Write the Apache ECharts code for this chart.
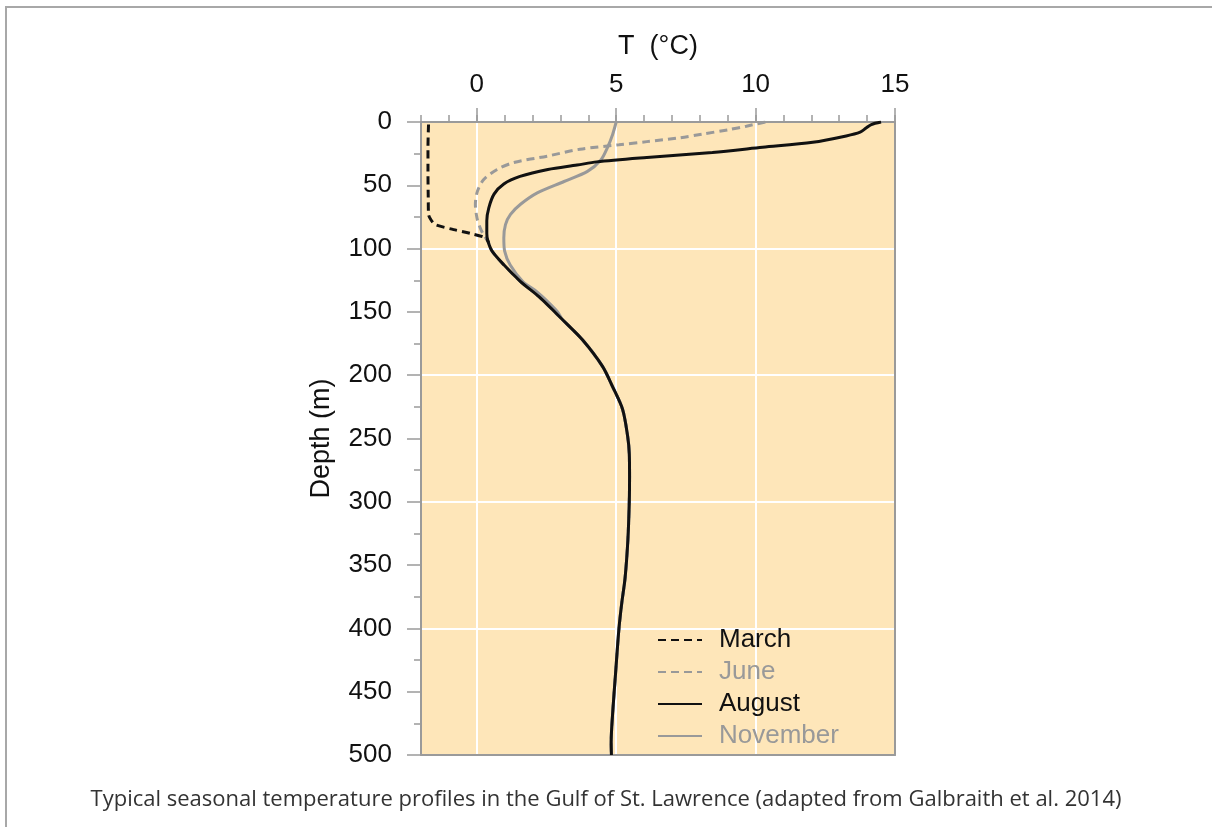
<!DOCTYPE html>
<html>
<head>
<meta charset="utf-8">
<title>Seasonal temperature profiles</title>
<script src="https://cdn.jsdelivr.net/npm/echarts@6/dist/echarts.min.js"></script>
<style>
  html, body { margin: 0; padding: 0; background: #fff; }
  #chart { position: absolute; left: 0; top: 0; width: 1212px; height: 827px; }
  #frame { position: absolute; left: 5px; top: 6px; right: 0; bottom: 0;
           border-top: 2px solid #a8a8a8; border-left: 2px solid #a8a8a8; pointer-events: none; }
</style>
</head>
<body>
<div id="chart"></div>
<div id="frame"></div>
<script>
// Temperature profiles: each point is [temperature (°C), depth (m)]
const march = [
  [-1.73, 2], [-1.75, 20], [-1.75, 40], [-1.74, 60], [-1.73, 73], [-1.62, 78],
  [-1.5, 81], [-0.83, 85], [-0.23, 88], [0.31, 91.5], [0.42, 95]
];
const june = [
  [10.35, 0], [9.67, 3.3], [9.05, 6], [8.1, 9.5], [7.27, 12.5], [6.1, 15.5], [5.1, 18], [3.7, 21.5],
  [2.52, 27], [1.33, 32], [0.73, 37.5], [0.25, 45.5], [0.02, 55], [-0.05, 65],
  [0.01, 76], [0.13, 84], [0.27, 90], [0.4, 94]
];
const august = [
  [14.5, 0], [14.15, 2], [13.95, 5], [13.75, 8], [13.25, 11], [12.05, 16],
  [10.25, 20], [8.45, 24], [6.1, 28], [4.3, 31.5], [3.6, 34], [2.55, 37.5],
  [1.55, 43], [0.97, 49], [0.62, 57], [0.43, 68], [0.36, 78], [0.36, 88],
  [0.4, 94], [0.55, 102], [0.98, 113], [1.57, 126], [2.23, 138], [3.07, 156],
  [3.79, 172], [4.51, 193], [4.87, 209], [5.23, 227], [5.41, 248], [5.47, 262],
  [5.48, 280], [5.47, 300], [5.42, 330], [5.32, 360], [5.2, 380], [5.1, 400],
  [4.98, 435], [4.88, 465], [4.82, 490], [4.83, 500]
];
const november = [
  [5.0, 0], [4.87, 10], [4.69, 20], [4.45, 30], [3.97, 39], [3.13, 47],
  [2.17, 56], [1.57, 65], [1.21, 73], [1.03, 81], [0.97, 91.5], [1.0, 102],
  [1.2, 113], [1.65, 126], [2.15, 134], [2.55, 142], [2.9, 150], [3.07, 156]
];
// Deep water below the seasonal layers is shared by June and November
const deepWater = [
  [0.55, 102], [0.98, 113], [1.57, 126], [2.23, 138], [3.07, 156],
  [3.79, 172], [4.51, 193], [4.87, 209], [5.23, 227], [5.41, 248], [5.47, 262],
  [5.48, 280], [5.47, 300], [5.42, 330], [5.32, 360], [5.2, 380], [5.1, 400],
  [4.98, 435], [4.88, 465], [4.82, 490], [4.83, 500]
];

const tempTicks = [0, 5, 10, 15];
const captionText = 'Typical seasonal temperature profiles in the Gulf of St. Lawrence (adapted from Galbraith et al. 2014)';

const FONT = 'Liberation Sans';
const AXIS_GREY = '#9a9a9a';
const BLACK = '#111111';
const GREY = '#999999';

const chart = echarts.init(document.getElementById('chart'), null, { renderer: 'canvas' });

function profile(name, data, color, dashed, z) {
  return {
    name: name, type: 'line', data: data, xAxisIndex: 1, yAxisIndex: 0,
    symbol: 'none', smooth: 0.3, z: z,
    lineStyle: { color: color, width: 3, type: dashed ? [8, 5] : 'solid' },
    itemStyle: { color: color }
  };
}

chart.setOption({
  animation: false,
  backgroundColor: '#ffffff',
  title: {
    text: captionText, left: 'center', top: 784,
    textStyle: { fontFamily: 'Open Sans', fontSize: 22, fontWeight: 'normal', color: '#333333' }
  },
  grid: {
    left: 421, top: 122, width: 474, height: 633,
    show: true, backgroundColor: '#fee6b9', borderWidth: 0
  },
  legend: {
    orient: 'vertical', left: 652, top: 622,
    itemWidth: 44, itemHeight: 14, itemGap: 6,
    itemStyle: { opacity: 0, borderWidth: 0 },
    textStyle: { fontFamily: FONT, fontSize: 26, color: BLACK, padding: [0, 0, 0, 12] },
    data: [
      { name: 'March' },
      { name: 'June', textStyle: { color: GREY } },
      { name: 'August' },
      { name: 'November', textStyle: { color: GREY } }
    ]
  },
  xAxis: [
    { // minor ticks every degree and vertical grid lines
      type: 'value', position: 'top', min: -2, max: 15, interval: 1, z: 0,
      axisLine: { show: false, onZero: false },
      axisTick: { show: true, inside: false, length: 7, lineStyle: { color: AXIS_GREY, width: 1.5 } },
      axisLabel: { show: false },
      splitLine: {
        show: true, showMaxLine: false,
        lineStyle: { width: 2, color: ['rgba(0,0,0,0)', 'rgba(0,0,0,0)', '#ffffff', 'rgba(0,0,0,0)', 'rgba(0,0,0,0)'] }
      }
    },
    { // main temperature axis
      type: 'value', position: 'top', min: -2, max: 15, interval: 1, z: 3,
      name: 'T  (°C)', nameLocation: 'middle', nameGap: 62,
      nameTextStyle: { fontFamily: FONT, fontSize: 27, color: BLACK },
      axisLine: { show: true, onZero: false, lineStyle: { color: AXIS_GREY, width: 2 } },
      axisTick: { show: true, length: 14, customValues: tempTicks, lineStyle: { color: AXIS_GREY, width: 1.5 } },
      axisLabel: { show: true, customValues: tempTicks, margin: 24, fontFamily: FONT, fontSize: 26, color: BLACK },
      splitLine: { show: false }
    },
    { // bottom frame edge
      type: 'value', position: 'bottom', min: -2, max: 15, z: 3,
      axisLine: { show: true, onZero: false, lineStyle: { color: AXIS_GREY, width: 2 } },
      axisTick: { show: false }, axisLabel: { show: false }, splitLine: { show: false }
    }
  ],
  yAxis: [
    { // depth axis
      type: 'value', inverse: true, min: 0, max: 500, interval: 50, position: 'left', z: 3,
      name: 'Depth (m)', nameLocation: 'middle', nameGap: 86, nameRotate: 90,
      nameTextStyle: { fontFamily: FONT, fontSize: 27, color: BLACK },
      axisLine: { show: true, onZero: false, lineStyle: { color: AXIS_GREY, width: 2 } },
      axisTick: { show: true, length: 14, lineStyle: { color: AXIS_GREY, width: 1.5 } },
      minorTick: { show: true, splitNumber: 2, length: 7, lineStyle: { color: AXIS_GREY, width: 1.5 } },
      axisLabel: { margin: 29, fontFamily: FONT, fontSize: 26, color: BLACK },
      splitLine: { show: false }
    },
    { // horizontal grid lines every 100 m
      type: 'value', inverse: true, min: 0, max: 500, interval: 100, position: 'left', z: 0,
      axisLine: { show: false, onZero: false }, axisTick: { show: false }, axisLabel: { show: false },
      splitLine: { show: true, showMinLine: false, showMaxLine: false, lineStyle: { color: '#ffffff', width: 2 } }
    },
    { // right frame edge
      type: 'value', inverse: true, min: 0, max: 500, position: 'right', z: 3,
      axisLine: { show: true, onZero: false, lineStyle: { color: AXIS_GREY, width: 2 } },
      axisTick: { show: false }, axisLabel: { show: false }, splitLine: { show: false }
    }
  ],
  series: [
    profile('November', november.concat(deepWater.filter(p => p[1] > 156)), GREY, false, 2),
    profile('June', june.concat(deepWater), GREY, true, 3),
    profile('March', march, BLACK, true, 4),
    profile('August', august, BLACK, false, 5)
  ]
});
</script>
</body>
</html>
